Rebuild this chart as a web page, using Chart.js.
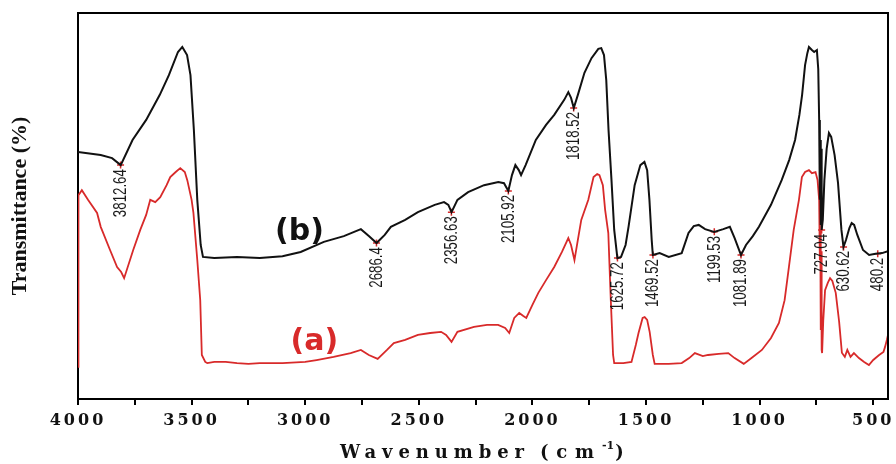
<!DOCTYPE html>
<html>
<head>
<meta charset="utf-8">
<script src="https://cdn.jsdelivr.net/npm/chart.js@4.4.1/dist/chart.umd.min.js"></script>
<style>
  html, body { margin: 0; padding: 0; background: #ffffff; }
  #wrap { width: 896px; height: 464px; }
</style>
</head>
<body>
<div id="wrap"><canvas id="c" width="896" height="464"></canvas></div>
<script>
// ---- Curve (b): wavenumber (cm-1) and transmittance (arbitrary %) ----
const waveB = [4000,3900,3850,3812,3760,3700,3640,3600,3560,3541,3520,3505,3490,3475,3460,3450,3400,3300,3200,3100,3020,2918,2830,2755,2720,2686,2650,2623,2560,2504,2430,2389,2370,2356,2330,2283,2213,2150,2125,2106,2090,2075,2060,2050,2030,1985,1940,1904,1860,1842,1830,1818,1800,1771,1740,1710,1697,1685,1675,1665,1652,1640,1626,1610,1590,1577,1550,1525,1507,1495,1485,1475,1470,1440,1400,1343,1313,1290,1268,1240,1200,1160,1131,1110,1082,1060,1030,1003,950,903,870,844,825,813,800,790,783,770,760,748,742,738,735,733,731,729,727,722,715,705,695,685,670,655,640,631,620,605,595,584,570,545,518,490,461,435];
const transB = [64.0,63.2,62.4,60.6,67.1,72.3,78.8,83.9,89.9,91.2,89.1,83.9,69.7,51.6,39.9,36.8,36.5,36.8,36.5,37.0,38.1,40.7,42.2,44.0,42.2,40.4,42.5,44.6,46.4,48.4,50.3,51.0,50.3,48.4,51.6,53.6,55.4,56.2,55.9,53.9,58.0,60.6,59.3,58.0,60.6,67.1,71.0,73.6,77.5,79.5,78.0,75.4,78.8,84.5,88.3,90.7,90.9,89.1,82.6,69.7,56.7,43.8,36.5,36.8,39.9,44.6,55.4,60.6,61.4,59.3,51.6,41.2,37.3,37.8,36.8,37.8,43.0,44.8,45.1,44.0,43.3,44.0,44.6,41.7,37.3,39.9,42.2,44.6,50.3,56.7,61.9,67.1,73.6,78.8,86.5,89.6,91.2,90.4,89.9,90.4,85.5,72.3,51.6,67.1,45.1,64.8,43.8,46.4,56.7,64.8,68.9,67.9,63.2,56.0,43.8,39.4,41.2,44.3,45.6,45.1,42.5,38.6,37.3,37.6,37.8,38.3];

// ---- Curve (a) ----
const waveA = [4000,3998,3983,3956,3916,3900,3859,3828,3810,3797,3757,3726,3700,3682,3660,3638,3610,3594,3570,3550,3530,3519,3500,3492,3475,3462,3455,3440,3431,3400,3350,3300,3250,3200,3100,3000,2950,2875,2800,2755,2720,2681,2640,2610,2560,2504,2450,2402,2380,2356,2330,2257,2200,2151,2120,2102,2080,2058,2040,2027,2000,1974,1940,1904,1870,1842,1830,1815,1800,1785,1754,1731,1715,1705,1690,1680,1666,1655,1645,1640,1600,1564,1545,1533,1515,1506,1495,1484,1470,1462,1400,1343,1310,1285,1250,1227,1180,1138,1110,1070,1030,990,950,915,890,871,850,827,814,800,783,770,754,745,738,735,733,731,729,727,725,720,712,700,690,680,665,650,638,625,614,600,585,563,540,519,500,474,455,448,440,435];
const transA = [8.3,52.8,54.1,51.6,48.2,44.6,38.6,34.2,32.9,31.3,38.6,43.8,47.7,51.6,51.0,52.3,55.4,57.5,58.8,59.8,58.8,56.7,51.6,48.2,36.0,25.6,11.4,9.6,9.3,9.6,9.6,9.3,9.1,9.3,9.3,9.6,10.1,10.9,11.9,12.7,11.4,10.4,12.7,14.5,15.3,16.6,17.1,17.4,16.6,14.8,17.4,18.7,19.2,19.2,18.4,17.1,21.0,22.3,21.5,21.0,24.4,27.5,30.8,34.2,38.1,41.7,39.9,36.0,41.2,46.4,51.6,57.5,58.3,58.0,55.4,49.0,43.0,25.6,11.4,9.3,9.3,9.6,14.0,17.1,21.0,21.2,20.5,17.4,11.4,9.1,9.1,9.3,10.6,11.9,11.1,11.4,11.7,11.9,10.6,9.1,10.9,12.7,15.8,19.7,25.6,34.2,43.8,51.6,57.5,58.8,59.3,58.5,58.8,56.7,51.6,36.0,43.8,17.9,38.3,12.7,11.9,20.2,28.2,30.1,31.3,30.6,27.5,20.0,12.0,10.9,12.7,10.9,11.9,10.6,9.6,8.8,10.1,11.4,12.2,13.5,15.3,16.6];

// ---- Peak annotations on curve (b) ----
const peakWave = [3812.64,2686.4,2356.63,2105.92,1818.52,1625.72,1469.52,1199.53,1081.89,727.04,630.62,480.2];
const peakT    = [60.6,40.4,48.4,53.9,75.4,36.5,37.3,43.3,37.3,43.8,39.4,37.6];
const peakText = ['3812.64','2686.4','2356.63','2105.92','1818.52','1625.72','1469.52','1199.53','1081.89','727.04','630.62','480.2'];

// ---- Axis ticks ----
const xTicks = [500,750,1000,1250,1500,1750,2000,2250,2500,2750,3000,3250,3500,3750,4000];
const xMin = 435, xMax = 4000;

// ---- Curve labels ----
const curveNames = ['(b)','(a)'];
const curveNameWave = [3025, 2960];
const curveNameT = [43.3, 14.8];

const BLACK = '#111111';
const RED = '#d82a2a';

const ptsB = waveB.map((w,i)=>({x:w,y:transB[i]}));
const ptsA = waveA.map((w,i)=>({x:w,y:transA[i]}));
const ptsPk = peakWave.map((w,i)=>({x:w,y:peakT[i]}));

function spacedText(ctx, text, x, y, targetWidth) {
  ctx.letterSpacing = '0px';
  const w0 = ctx.measureText(text).width;
  const n = [...text].length;
  const sp = Math.max(0, (targetWidth - w0) / n);
  ctx.letterSpacing = sp.toFixed(2) + 'px';
  ctx.fillText(text, x, y);
  const w = ctx.measureText(text).width;
  ctx.letterSpacing = '0px';
  return w;
}

const decor = {
  id: 'decor',
  beforeDraw(chart) {
    chart.ctx.letterSpacing = '3px';
  },
  beforeDatasetsDraw(chart) {
    chart.ctx.letterSpacing = '0px';
  },
  afterDraw(chart) {
    const ctx = chart.ctx;
    const a = chart.chartArea;
    const xs = chart.scales.x, ys = chart.scales.y;
    ctx.save();
    ctx.letterSpacing = '0px';
    // frame top & right
    ctx.strokeStyle = '#000';
    ctx.lineWidth = 2;
    ctx.beginPath();
    ctx.moveTo(a.left, a.top);
    ctx.lineTo(a.right, a.top);
    ctx.lineTo(a.right, a.bottom);
    ctx.stroke();

    // peak labels (rotated, condensed)
    ctx.fillStyle = '#1a1a1a';
    ctx.font = '19px "Liberation Sans", Arial, sans-serif';
    ctx.textAlign = 'right';
    ctx.textBaseline = 'middle';
    peakWave.forEach((w,i)=>{
      const px = xs.getPixelForValue(w);
      const py = ys.getPixelForValue(peakT[i]);
      ctx.save();
      ctx.translate(px, py + 4);
      ctx.rotate(-Math.PI/2);
      ctx.scale(0.7, 1);
      ctx.fillText(peakText[i], 0, 0);
      ctx.restore();
    });

    // curve names
    ctx.font = 'bold 30px "DejaVu Sans", sans-serif';
    ctx.textAlign = 'center';
    ctx.textBaseline = 'middle';
    curveNames.forEach((t,i)=>{
      ctx.fillStyle = i === 0 ? BLACK : RED;
      ctx.fillText(t, xs.getPixelForValue(curveNameWave[i]), ys.getPixelForValue(curveNameT[i]));
    });

    // y title
    ctx.save();
    ctx.fillStyle = '#111';
    ctx.font = 'bold 22px "Liberation Serif", "Times New Roman", serif';
    ctx.translate(20, (a.top + a.bottom) / 2);
    ctx.rotate(-Math.PI/2);
    ctx.textAlign = 'center';
    ctx.textBaseline = 'middle';
    ctx.fillText('Transmittance (%)', 0, 0);
    ctx.restore();

    // x title: "Wavenumber (cm-1)" with letter spacing and superscript
    ctx.fillStyle = '#111';
    ctx.textAlign = 'left';
    ctx.textBaseline = 'alphabetic';
    ctx.font = 'bold 18px "DejaVu Serif", serif';
    const cx = (a.left + a.right) / 2;
    let x0 = cx - 143;
    const base = 458;
    x0 += spacedText(ctx, 'Wavenumber', x0, base, 190);
    x0 += 10;
    x0 += spacedText(ctx, '(cm', x0, base, 62);
    ctx.font = 'bold 11px "DejaVu Serif", serif';
    ctx.fillText('-1', x0, base - 9);
    x0 += ctx.measureText('-1').width + 1;
    ctx.font = 'bold 18px "DejaVu Serif", serif';
    ctx.fillText(')', x0, base);
    ctx.restore();
  }
};

new Chart(document.getElementById('c'), {
  type: 'line',
  data: {
    datasets: [
      { label: 'b', data: ptsB, borderColor: BLACK, borderWidth: 2, pointRadius: 0, tension: 0, fill: false },
      { label: 'a', data: ptsA, borderColor: RED, borderWidth: 1.8, pointRadius: 0, tension: 0, fill: false },
      { label: 'peaks', type: 'scatter', data: ptsPk, pointStyle: 'cross', pointRadius: 3.5, borderColor: RED, borderWidth: 1.5, backgroundColor: RED, showLine: false }
    ]
  },
  options: {
    responsive: false,
    devicePixelRatio: 1,
    animation: false,
    layout: { padding: { top: 13, right: 8, left: 0, bottom: 0 } },
    plugins: { legend: { display: false }, tooltip: { enabled: false } },
    scales: {
      x: {
        type: 'linear',
        reverse: true,
        min: xMin,
        max: xMax,
        afterBuildTicks(s) { s.ticks = xTicks.map(v => ({ value: v })); },
        afterFit(s) { s.height = 65; },
        ticks: {
          autoSkip: false,
          maxRotation: 0,
          padding: 6,
          color: '#111',
          font: { family: '"DejaVu Serif", serif', size: 16, weight: 'bold' },
          callback: (v) => (v % 500 === 0 ? String(v) : '')
        },
        grid: { display: true, drawOnChartArea: false, drawTicks: true, tickLength: 6, color: '#000', lineWidth: 2 },
        border: { display: true, color: '#000', width: 2 }
      },
      y: {
        type: 'linear',
        min: 0,
        max: 100,
        afterFit(s) { s.width = 78; },
        ticks: { display: false },
        grid: { display: false },
        border: { display: true, color: '#000', width: 2 }
      }
    }
  },
  plugins: [decor]
});
</script>
</body>
</html>
